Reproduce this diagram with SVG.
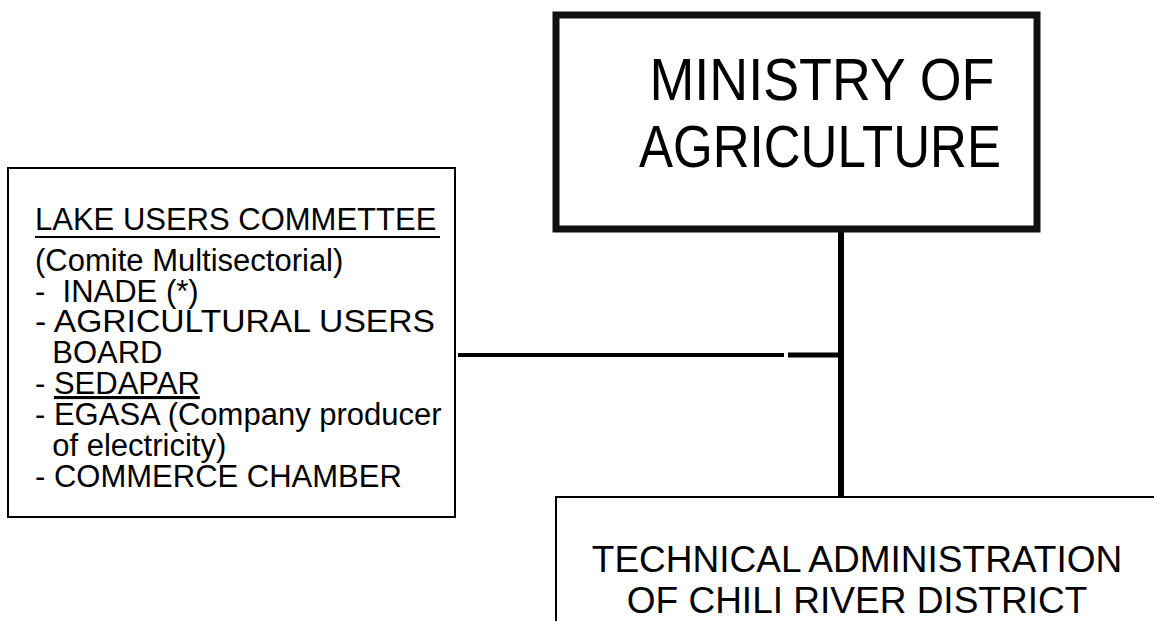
<svg xmlns="http://www.w3.org/2000/svg" width="1154" height="621" viewBox="0 0 1154 621">
  <style>
    .t { font-family: "Liberation Sans", Arial, sans-serif; fill: #000; }
    .big { font-size: 60px; }
    .mid { font-size: 37px; }
    .small { font-size: 31px; }
    .thin { fill: none; stroke: #000; stroke-width: 2; }
    .heavy { fill: none; stroke: #111; stroke-width: 7; }
    .link { stroke: #000; fill: none; }
  </style>
  <rect width="1154" height="621" fill="#fff"/>

  <g id="connectors">
    <line class="link" x1="841" y1="232" x2="841" y2="498" stroke-width="6"/>
    <line class="link" x1="458" y1="355" x2="784" y2="355" stroke-width="4"/>
    <line class="link" x1="788" y1="355" x2="838" y2="355" stroke-width="5"/>
  </g>

  <g id="ministry">
    <rect class="heavy" x="556" y="15" width="481" height="214"/>
    <text class="t big" x="822" y="100" text-anchor="middle" textLength="345" lengthAdjust="spacingAndGlyphs">MINISTRY OF</text>
    <text class="t big" x="820" y="167" text-anchor="middle" textLength="362" lengthAdjust="spacingAndGlyphs">AGRICULTURE</text>
  </g>

  <g id="lake-users">
    <rect class="thin" x="8" y="168" width="447" height="349"/>
    <text class="t small" x="35" y="230">LAKE USERS COMMETTEE</text>
    <line x1="35" y1="237" x2="440" y2="237" stroke="#000" stroke-width="2"/>
    <text class="t small" x="35" y="271">(Comite Multisectorial)</text>
    <text class="t small" x="35" y="302" xml:space="preserve">-  INADE (*)</text>
    <text class="t small" x="35" y="332" textLength="400" lengthAdjust="spacingAndGlyphs">- AGRICULTURAL USERS</text>
    <text class="t small" x="35" y="363" xml:space="preserve">  BOARD</text>
    <text class="t small" x="35" y="394">- <tspan text-decoration="underline">SEDAPAR</tspan></text>
    <text class="t small" x="35" y="425">- EGASA (Company producer</text>
    <text class="t small" x="35" y="456" xml:space="preserve">  of electricity)</text>
    <text class="t small" x="35" y="487">- COMMERCE CHAMBER</text>
  </g>

  <g id="technical-admin">
    <path class="thin" d="M556 621 V497 H1154"/>
    <text class="t mid" x="857" y="572" text-anchor="middle">TECHNICAL ADMINISTRATION</text>
    <text class="t mid" x="857" y="613" text-anchor="middle">OF CHILI RIVER DISTRICT</text>
  </g>
</svg>
